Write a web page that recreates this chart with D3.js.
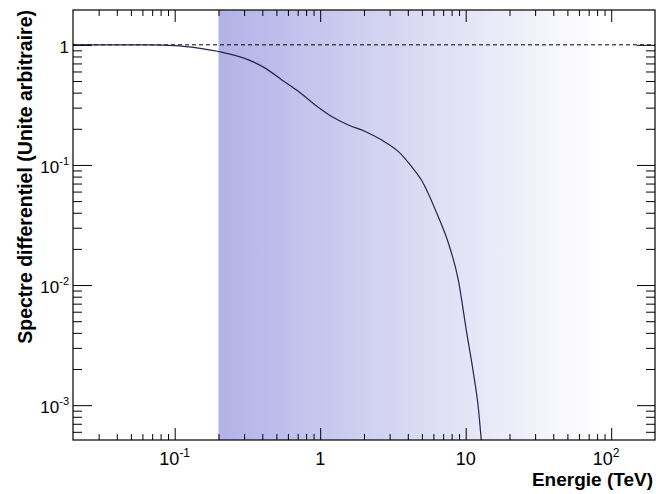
<!DOCTYPE html>
<html><head><meta charset="utf-8">
<script src="https://cdn.jsdelivr.net/npm/d3@7"></script>
<style>body{margin:0;background:#fff}svg{display:block}text{font-family:"Liberation Sans",Arial,Helvetica,sans-serif}</style>
</head><body><svg id="c" width="656" height="494"></svg>
<script>
// Data
const energy = [0.02,0.03,0.0413,0.0662,0.1,0.146,0.2,0.322,0.419,0.545,0.71,0.924,1.2,1.56,2.04,2.65,3.45,4.25,4.96,6.48,7.6,8.9,10.1,11.3,12.2,12.8,13.3];
const flux   = [1.0,1.0,1.0,0.998,0.985,0.939,0.88,0.75,0.64,0.51,0.408,0.316,0.253,0.215,0.19,0.161,0.129,0.0968,0.075,0.037,0.0224,0.011,0.0042,0.00185,0.00096,0.00051,0.0003];
const xMajorTicks = [0.1,1,10,100];
const xTickLabels = [["10","-1"],["1",""],["10",""],["10","2"]];
const yMajorTicks = [1,0.1,0.01,0.001];
const yTickLabels = [["1",""],["10","-1"],["10","-2"],["10","-3"]];
const bandStart = 0.2; // TeV, start of shaded band
const refLevel = 1;

const svg = d3.select("#c");
const L=73, R=655, T=10, B=440;
const x = d3.scaleLog().domain([0.02,200]).range([L,R]);
const y = d3.scaleLog().domain([Math.pow(10,-3.29),Math.pow(10,0.29)]).range([B,T]);

// gradient band
const defs = svg.append("defs");
const g = defs.append("linearGradient").attr("id","band").attr("gradientUnits","userSpaceOnUse")
  .attr("x1",x(bandStart)).attr("x2",598).attr("y1",0).attr("y2",0);
g.append("stop").attr("offset",0).attr("stop-color","#b2b2e8");
g.append("stop").attr("offset",1).attr("stop-color","#ffffff");
defs.append("clipPath").attr("id","clip").append("rect").attr("x",L).attr("y",T).attr("width",R-L).attr("height",B-T);

svg.append("rect").attr("x",x(bandStart)).attr("y",T).attr("width",R-x(bandStart)).attr("height",B-T).attr("fill","url(#band)");

// dashed reference line
svg.append("line").attr("x1",L).attr("x2",R).attr("y1",y(refLevel)).attr("y2",y(refLevel))
  .attr("stroke","#000").attr("stroke-width",1).attr("stroke-dasharray","4,3");

// curve
const pts = energy.map((e,i)=>[e,flux[i]]);
svg.append("path").datum(pts).attr("clip-path","url(#clip)")
  .attr("d",d3.line().x(d=>x(d[0])).y(d=>y(d[1])).curve(d3.curveMonotoneX))
  .attr("fill","none").attr("stroke","#23234a").attr("stroke-width",1.2);

// minor tick values
const xMinor=[], yMinor=[];
for(let p=-2;p<=2;p++) for(let m=2;m<=9;m++){const v=m*Math.pow(10,p); if(v>0.02&&v<200) xMinor.push(v);}
for(let p=-4;p<=0;p++) for(let m=2;m<=9;m++){const v=m*Math.pow(10,p); if(v>y.domain()[0]&&v<y.domain()[1]) yMinor.push(v);}

function axis(gen, tr){
  const a = svg.append("g").attr("transform",tr).call(gen);
  a.selectAll("text").remove();
  a.select(".domain").remove();
  a.selectAll("line").attr("stroke","#000").attr("stroke-width",1);
  return a;
}
axis(d3.axisBottom(x).tickValues(xMajorTicks).tickSize(-12).tickFormat(""),`translate(0,${B})`);
axis(d3.axisBottom(x).tickValues(xMinor).tickSize(-6).tickFormat(""),`translate(0,${B})`);
axis(d3.axisTop(x).tickValues(xMajorTicks).tickSize(-12).tickFormat(""),`translate(0,${T})`);
axis(d3.axisTop(x).tickValues(xMinor).tickSize(-6).tickFormat(""),`translate(0,${T})`);
axis(d3.axisLeft(y).tickValues(yMajorTicks).tickSize(-19).tickFormat(""),`translate(${L},0)`);
axis(d3.axisLeft(y).tickValues(yMinor).tickSize(-9).tickFormat(""),`translate(${L},0)`);
axis(d3.axisRight(y).tickValues(yMajorTicks).tickSize(-18).tickFormat(""),`translate(${R},0)`);
axis(d3.axisRight(y).tickValues(yMinor).tickSize(-9).tickFormat(""),`translate(${R},0)`);

// frame
svg.append("rect").attr("x",L).attr("y",T).attr("width",R-L).attr("height",B-T).attr("fill","none").attr("stroke","#000").attr("stroke-width",1.2);

// tick labels
xMajorTicks.forEach((v,i)=>{
  const last = i===xMajorTicks.length-1;
  const t = svg.append("text").attr("x",x(v)-(last?5:0)).attr("y",465).attr("text-anchor","middle").attr("font-size",18).attr("fill","#000");
  t.append("tspan").text(xTickLabels[i][0]);
  if(xTickLabels[i][1]) t.append("tspan").attr("dy",-8).attr("font-size",12).text(xTickLabels[i][1]);
});
yMajorTicks.forEach((v,i)=>{
  const t = svg.append("text").attr("x",69).attr("y",y(v)+8).attr("text-anchor","end").attr("font-size",17).attr("fill","#000");
  t.append("tspan").text(yTickLabels[i][0]);
  if(yTickLabels[i][1]) t.append("tspan").attr("dy",-8).attr("font-size",11).text(yTickLabels[i][1]);
});

// axis titles
svg.append("text").attr("x",653).attr("y",486).attr("text-anchor","end").attr("font-size",19).attr("font-weight","bold").text("Energie (TeV)");
svg.append("text").attr("transform","translate(32,10) rotate(-90)").attr("text-anchor","end").attr("font-size",19.5).attr("font-weight","bold").text("Spectre differentiel (Unite arbitraire)");
</script></body></html>
